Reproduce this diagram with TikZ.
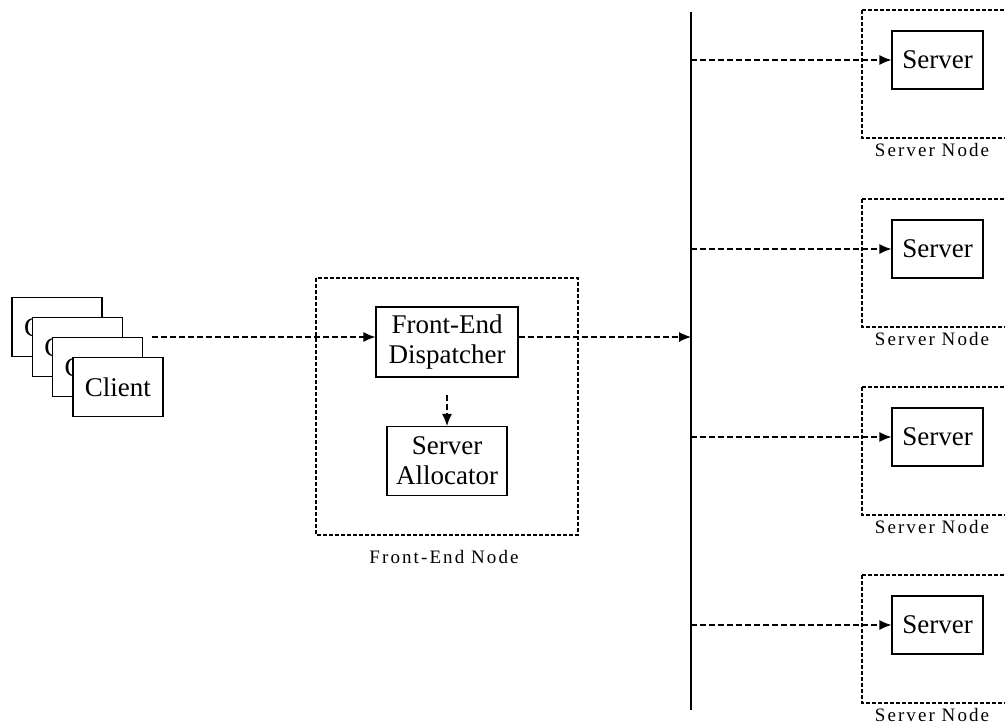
\documentclass[tikz,border=0pt]{standalone}
\usepackage{fontspec}
\setmainfont{Liberation Serif}
\newfontfamily\nodelabelfont[LetterSpace=11]{Liberation Serif}
\usetikzlibrary{arrows.meta,positioning,calc}

\begin{document}
\begin{tikzpicture}[x=0.5pt,y=-0.5pt,
  box/.style={draw,line width=0.6pt,fill=white,align=center,inner sep=0pt,
    font=\fontsize{13.5}{15}\selectfont},
  group/.style={draw,line width=0.6pt,dash pattern=on 2pt off 1pt},
  link/.style={line width=0.6pt,dash pattern=on 3pt off 1.5pt,-{Latex[length=6pt,width=5pt]}},
  tag/.style={font=\nodelabelfont\fontsize{9.5}{11}\selectfont}]
\useasboundingbox (0,0) rectangle (1005,722);
\clip (0,0) rectangle (1005,722);

% stacked clients
\foreach \i in {0,...,3}
  \node[box,minimum width=45pt,minimum height=29.5pt] (c\i) at (57+20.3*\i,327+20*\i) {Client};

% front-end node
\draw[group] (316,278) rectangle (578,535);
\node[box,minimum width=71pt,minimum height=35pt] (disp) at (447,342) {Front-End\\Dispatcher};
\node[box,minimum width=60pt,minimum height=34.5pt] (alloc) at (447,461) {Server\\Allocator};
\node[tag] (fenode) at (444,557) {Front-End Node};

% bus
\coordinate (bartop) at (691,12);
\coordinate (barbot) at (691,710);
\draw[line width=0.7pt] (bartop) -- (barbot);

\coordinate (cout) at (152,337);
\draw[link] (cout) -- (cout -| disp.west);
\draw[link] (disp.east |- cout) -- (cout -| bartop);
\coordinate (dsplit) at (447,395);
\draw[link] (dsplit) -- (alloc.north);

% server nodes
\foreach \y [count=\k] in {60,249,437,625} {
  \draw[group] (862,\y-50) rectangle (1012,\y+78);
  \node[box,minimum width=45.5pt,minimum height=29pt] (srv\k) at (937.5,\y) {Server};
  \node[tag] (snode\k) at (932,\y+90) {Server Node};
  \coordinate (tap\k) at (691,\y);
  \draw[link] (tap\k) -- (srv\k.west);
}
\end{tikzpicture}
\end{document}
